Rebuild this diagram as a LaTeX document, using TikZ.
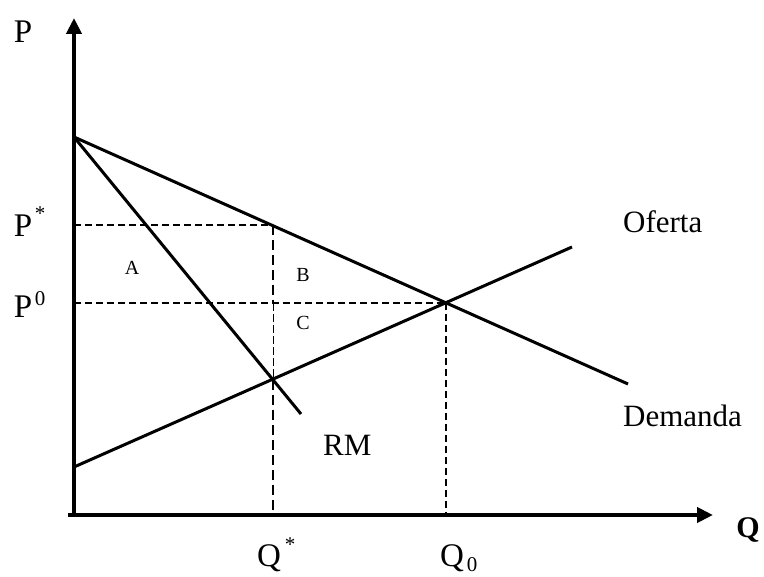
\documentclass[tikz,border=0pt]{standalone}
\usepackage{fontspec}
\setmainfont{Liberation Serif}
\usetikzlibrary{arrows.meta}
\begin{document}
\begin{tikzpicture}[x=1pt,y=-1pt,
  axis/.style={line width=4pt,-{Triangle[length=16pt,width=15pt]}},
  curve/.style={line width=3pt},
  guide/.style={line width=1.9pt,dash pattern=on 7pt off 4pt},
  guidethick/.style={line width=2.6pt,dash pattern=on 10pt off 5pt},
  guidethin/.style={line width=1pt,dash pattern=on 8pt off 3pt},
  big/.style={inner sep=0pt,anchor=base,font=\fontsize{33}{38}\selectfont},
  mid/.style={inner sep=0pt,anchor=base west,font=\fontsize{31}{36}\selectfont},
  small/.style={inner sep=0pt,anchor=base,font=\fontsize{20}{24}\selectfont},
  tiny/.style={inner sep=0pt,font=\fontsize{21}{24}\selectfont}
]
\useasboundingbox (0,0) rectangle (764,577);
% coordinates
\coordinate (O) at (74,515);
\coordinate (Ytop) at (74,18);
\coordinate (Xstart) at (68,515);
\coordinate (Xend) at (713,515);
\coordinate (D0) at (74,137);
\coordinate (D1) at (628,384);
\coordinate (S0) at (74,467);
\coordinate (S1) at (572,247);
\coordinate (R1) at (301,414);
\coordinate (E) at (446,303);
\coordinate (Ps) at (74,225);
\coordinate (M) at (273,225);
\coordinate (P0) at (74,303);
\coordinate (F) at (273,303);
\coordinate (G) at (273,380);
\coordinate (Qs) at (273,515);
\coordinate (Q0) at (446,515);
% guides
\draw[guide] (Ps) -- (M);
\draw[guide] (P0) -- (E);
\draw[guidethick] (M) -- (F);
\draw[guidethin] (F) -- (G);
\draw[guidethick] (G) -- (Qs);
\draw[guide] (E) -- (Q0);
% curves
\draw[curve] (D0) -- (D1);
\draw[curve] (S0) -- (S1);
\draw[curve] (D0) -- (R1);
% axes
\draw[axis] (O) -- (Ytop);
\draw[axis] (Xstart) -- (Xend);
% labels
\node[big] (lP) at (23,43) {P};
\node[big] (lPs) at (23,237) {P};
\node[tiny] (lPsS) at (40,214) {*};
\node[big] (lP0) at (23,318) {P};
\node[tiny] (lP0S) at (40,299) {0};
\node[big] (lQs) at (269,566) {Q};
\node[tiny] (lQsS) at (290,545) {*};
\node[big] (lQ0) at (452,566) {Q};
\node[tiny] (lQ0S) at (472,565) {0};
\node[inner sep=0pt,anchor=base,font=\fontsize{30}{34}\selectfont\bfseries] (lQ) at (748,538) {Q};
\node[mid] (lOf) at (623,233) {Oferta};
\node[mid] (lDe) at (623,427) {Demanda};
\node[mid] (lRM) at (323,456) {RM};
\node[small] (lA) at (132,275) {A};
\node[small] (lB) at (303,282) {B};
\node[small] (lC) at (303,330) {C};
\end{tikzpicture}
\end{document}
